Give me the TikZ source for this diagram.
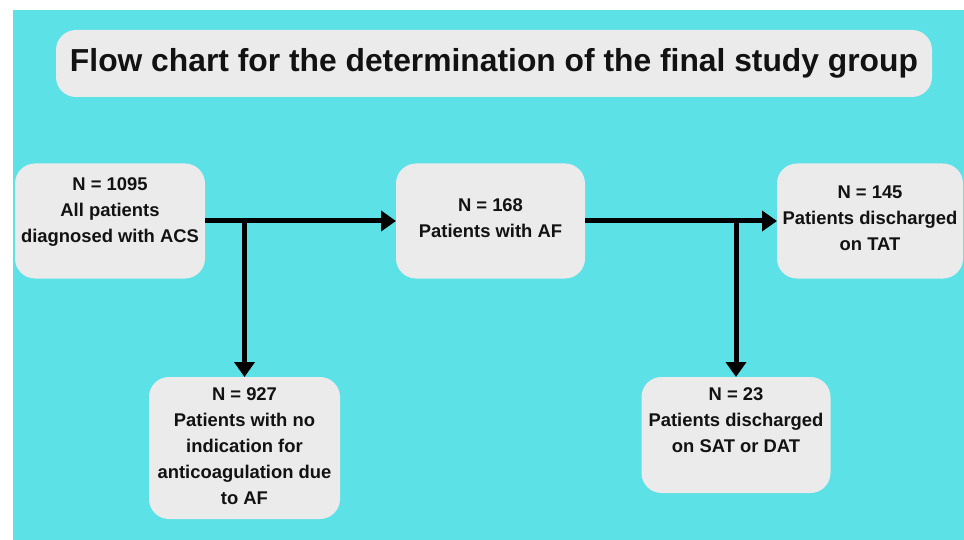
\documentclass[tikz,border=0pt]{standalone}
\usepackage{fontspec}
\setmainfont{Liberation Sans}
\usetikzlibrary{arrows.meta,positioning}
\definecolor{sea}{HTML}{5CE1E6}
\definecolor{cardgray}{HTML}{EBEBEB}

\begin{document}
\begin{tikzpicture}[x=1pt,y=-1pt,
  card/.style={fill=cardgray,rounded corners=20pt,inner sep=0pt,outer sep=0pt},
  txt/.style={align=center,inner sep=0pt,text=black!93,font=\fontsize{18.4}{26}\selectfont\bfseries},
  flow/.style={-{Triangle[length=15pt,width=20pt]},line width=5pt},
]
  % canvas
  \useasboundingbox (0,0) rectangle (964,540);
  \fill[sea] (13,10) rectangle (964,540);

  % title
  \node[card,minimum width=876pt,minimum height=67pt,text=black!93,font=\fontsize{31.8}{36}\selectfont\bfseries] (title) at (494,63.5) {Flow chart for the determination of the final study group};

  % top row
  \node[card,minimum width=190pt,minimum height=115pt] (acs) at (110,221) {};
  \node[txt,below=14pt of acs.north] (acstxt) {N = 1095\\All patients\\diagnosed with ACS};
  \node[card,minimum width=189pt,minimum height=115pt] (af) at (490.5,221) {};
  \node[txt,below=35pt of af.north] (aftxt) {N = 168\\Patients with AF};
  \node[card,minimum width=186pt,minimum height=115pt] (tat) at (870,221) {};
  \node[txt,below=22pt of tat.north] (tattxt) {N = 145\\Patients discharged\\on TAT};

  % bottom row
  \node[card,minimum width=191pt,minimum height=142pt] (noaf) at (244.5,448) {};
  \node[txt,below=10pt of noaf.north] (noaftxt) {N = 927\\Patients with no\\indication for\\anticoagulation due\\to AF};
  \node[card,minimum width=189pt,minimum height=116pt] (sat) at (736,435) {};
  \node[txt,below=10pt of sat.north] (sattxt) {N = 23\\Patients discharged\\on SAT or DAT};

  % connectors
  \draw[flow] (acs.east) -- (af.west);
  \draw[flow] (noaf.north |- acs.east) -- (noaf.north);
  \draw[flow] (af.east) -- (tat.west);
  \draw[flow] (sat.north |- af.east) -- (sat.north);
\end{tikzpicture}
\end{document}
